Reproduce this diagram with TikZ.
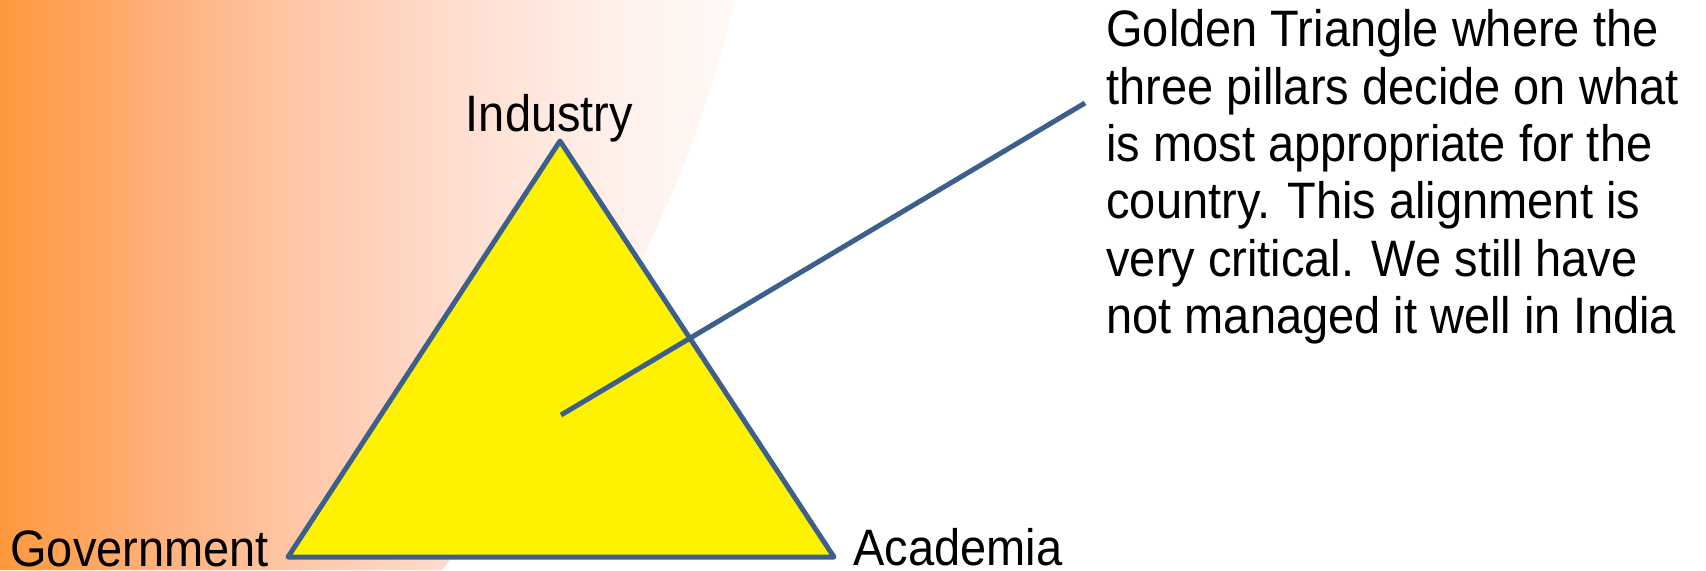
\documentclass[tikz,border=0pt]{standalone}
\usepackage{fontspec}
\setmainfont{Liberation Sans}
\usepackage{graphicx}

\definecolor{pillarblue}{RGB}{60,95,140}
\definecolor{shadeA}{RGB}{255,152,60}
\definecolor{shadeB}{RGB}{255,175,120}
\definecolor{shadeC}{RGB}{255,199,168}
\definecolor{shadeD}{RGB}{255,220,206}
\definecolor{shadeE}{RGB}{255,239,232}
\definecolor{shadeF}{RGB}{255,250,248}

% slightly taller letters
\newcommand{\tall}[1]{\scalebox{1}[1.09]{#1}}

\tikzset{
  pillar/.style={font=\fontsize{23.5}{26.3}\selectfont, inner sep=0pt},
  edge line/.style={draw=pillarblue, line width=2.5pt}
}

\begin{document}
\begin{tikzpicture}[x=0.5pt, y=0.5pt]
  \useasboundingbox (0,0) rectangle (1706,570);

  % Backdrop: orange fading out, cut by a curve
  \begin{scope}
    \clip (0,0) -- (0,570) -- (735,570) .. controls (691,380) and (594,190) .. (442,0) -- cycle;
    \foreach \x/\a/\b in {0/shadeA/shadeB, 150/shadeB/shadeC, 300/shadeC/shadeD, 450/shadeD/shadeE, 600/shadeE/shadeF}
      \shade[left color=\a, right color=\b] (\x,0) rectangle ++(151,570);
  \end{scope}

  % Triangle
  \coordinate (top) at (560,429);
  \coordinate (gov) at (288,13);
  \coordinate (acad) at (834,13);
  \filldraw[fill=yellow, edge line, line join=round] (gov) -- (top) -- (acad) -- cycle;

  % Pointer to the note
  \coordinate (centre) at (561,155);
  \coordinate (tip) at (1085,467);
  \draw[edge line] (centre) -- (tip);

  % Labels
  \node[pillar, anchor=base] (industry) at (549.5,438.3) {\tall{Industry}};
  \node[pillar, anchor=base west] (government) at (10,3.3) {\tall{Government}};
  \node[pillar, anchor=base west] (academia) at (853,5) {\tall{Academia}};
  \node[pillar, anchor=base west] (note) at (1106,523.3) {\tall{\begin{tabular}[t]{@{}l@{}}
      Golden Triangle where the\\
      three pillars decide on what\\
      is most appropriate for the\\
      country. This alignment is\\
      very critical. We still have\\
      not managed it well in India
    \end{tabular}}};
\end{tikzpicture}
\end{document}
